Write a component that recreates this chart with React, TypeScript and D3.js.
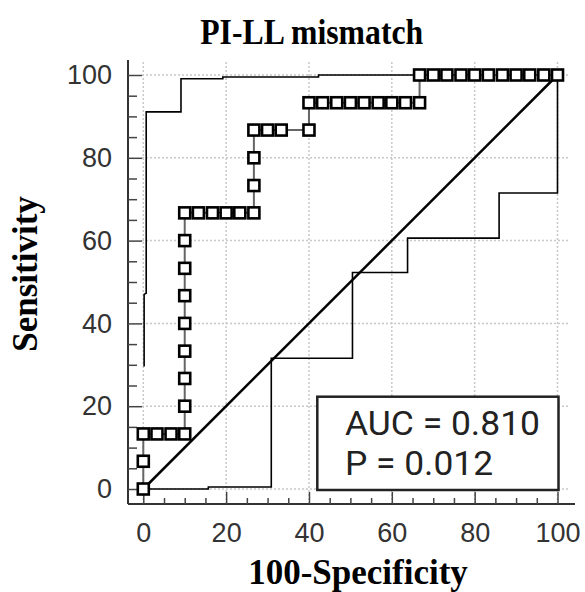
import React, { useEffect, useRef } from 'react';
import * as d3 from 'd3';

// ROC points (100-Specificity, Sensitivity)
const rocX = [0, 0, 0, 3.3, 6.7, 10, 10, 10, 10, 10, 10, 10, 10, 10, 13.3, 16.7, 20, 23.3, 26.7, 26.7, 26.7, 26.7, 30, 33.3, 40, 40, 43.3, 46.7, 50, 53.3, 56.7, 60, 63.3, 66.7, 66.7, 70, 73.3, 76.7, 80, 83.3, 86.7, 90, 93.3, 96.7, 100];
const rocY = [0, 6.7, 13.3, 13.3, 13.3, 13.3, 20, 26.7, 33.3, 40, 46.7, 53.3, 60, 66.7, 66.7, 66.7, 66.7, 66.7, 66.7, 73.3, 80, 86.7, 86.7, 86.7, 86.7, 93.3, 93.3, 93.3, 93.3, 93.3, 93.3, 93.3, 93.3, 93.3, 100, 100, 100, 100, 100, 100, 100, 100, 100, 100, 100];

// confidence bounds
const upperX = [0.2, 0.2, 0.7, 0.7, 9.1, 9.1, 19.2, 19.2, 42.3, 42.3, 100];
const upperY = [29.6, 47, 47.3, 91.1, 91.1, 99.1, 99.1, 99.5, 99.5, 100, 100];
const lowerX = [0, 15.7, 15.7, 30.9, 30.9, 50.5, 50.5, 63.8, 63.8, 85.9, 85.9, 100, 100];
const lowerY = [0, 0, 0.5, 0.5, 31.6, 31.6, 52.3, 52.3, 60.6, 60.6, 71.5, 71.5, 100];

const majorTicks = [0, 20, 40, 60, 80, 100];
const minorTicks = [5, 10, 15, 25, 30, 35, 45, 50, 55, 65, 70, 75, 85, 90, 95];

const title = 'PI-LL mismatch';
const xLabel = '100-Specificity';
const yLabel = 'Sensitivity';
const legendLines = ['AUC = 0.810', 'P = 0.012'];
const legendWidths = [195, 148];

const W = 585;
const H = 592;

const xScale = d3.scaleLinear().domain([0, 100]).range([143.3, 557.5]);
const yScale = d3.scaleLinear().domain([0, 100]).range([489, 75]);

const axisX = 128;
const axisY = 504;

export default function App() {
  const yRef = useRef<SVGGElement>(null);
  const yMinorRef = useRef<SVGGElement>(null);
  const xRef = useRef<SVGGElement>(null);
  const xMinorRef = useRef<SVGGElement>(null);

  useEffect(() => {
    const styleAxis = (g: any) => {
      g.select('.domain').remove();
      g.selectAll('line').attr('stroke', '#444').attr('stroke-width', 1.5);
      g.selectAll('text')
        .attr('fill', '#333')
        .attr('font-family', '"Liberation Sans", Arial, sans-serif')
        .attr('font-size', 27);
    };
    d3.select(yRef.current!)
      .call(d3.axisLeft(yScale).tickValues(majorTicks).tickSizeInner(-14).tickSizeOuter(0).tickPadding(16) as any)
      .call(styleAxis);
    d3.select(yMinorRef.current!)
      .call(d3.axisLeft(yScale).tickValues(minorTicks).tickSizeInner(-9).tickSizeOuter(0).tickFormat(() => '') as any)
      .call(styleAxis);
    d3.select(xRef.current!)
      .call(d3.axisBottom(xScale).tickValues(majorTicks).tickSizeInner(-12).tickSizeOuter(0).tickPadding(19) as any)
      .call(styleAxis);
    d3.select(xMinorRef.current!)
      .call(d3.axisBottom(xScale).tickValues(minorTicks).tickSizeInner(-6).tickSizeOuter(0).tickFormat(() => '') as any)
      .call(styleAxis);
  }, []);

  const line = d3.line<[number, number]>().x(d => xScale(d[0])).y(d => yScale(d[1]));
  const rocPts: [number, number][] = rocX.map((x, i) => [x, rocY[i]]);
  const upperPts: [number, number][] = upperX.map((x, i) => [x, upperY[i]]);
  const lowerPts: [number, number][] = lowerX.map((x, i) => [x, lowerY[i]]);

  const boxX0 = 317.3;
  const boxX1 = xScale(100) + 1;
  const boxY0 = 396.7;
  const boxY1 = yScale(0) + 1;

  return (
    <svg width={W} height={H} style={{ position: 'absolute', left: 0, top: 0, background: '#fff' }}>
      {/* grid */}
      <g stroke="#c8c8c8" strokeWidth={1.5} strokeDasharray="2,2">
        {majorTicks.map(t => (
          <line key={'h' + t} x1={142} x2={570} y1={yScale(t)} y2={yScale(t)} />
        ))}
        {majorTicks.map(t => (
          <line key={'v' + t} x1={xScale(t)} x2={xScale(t)} y1={62} y2={axisY - 1} />
        ))}
      </g>

      {/* axes */}
      <line x1={axisX} x2={axisX} y1={60} y2={axisY} stroke="#333" strokeWidth={2} />
      <line x1={axisX} x2={575} y1={axisY} y2={axisY} stroke="#333" strokeWidth={2} />
      <g ref={yRef} transform={`translate(${axisX},0)`} />
      <g ref={yMinorRef} transform={`translate(${axisX},0)`} />
      <g ref={xRef} transform={`translate(0,${axisY})`} />
      <g ref={xMinorRef} transform={`translate(0,${axisY})`} />

      {/* diagonal */}
      <path d={line([[0, 0], [100, 100]])!} stroke="#000" strokeWidth={2.5} fill="none" />

      {/* confidence bounds */}
      <path d={line(upperPts)!} stroke="#000" strokeWidth={1.6} fill="none" />
      <path d={line(lowerPts)!} stroke="#000" strokeWidth={1.6} fill="none" />

      {/* ROC curve */}
      <path d={line(rocPts)!} stroke="#666" strokeWidth={2} fill="none" />
      {rocPts.map((p, i) => (
        <rect
          key={i}
          x={xScale(p[0]) - 5.5}
          y={yScale(p[1]) - 5.5}
          width={11}
          height={11}
          fill="#fff"
          stroke="#000"
          strokeWidth={2.6}
        />
      ))}

      {/* legend box */}
      <rect x={boxX0} y={boxY0} width={boxX1 - boxX0} height={boxY1 - boxY0} fill="#fff" stroke="#222" strokeWidth={2.5} />
      {legendLines.map((t, i) => (
        <text
          key={t}
          x={345}
          y={435 + i * 40}
          fontFamily="Roboto, sans-serif"
          fontSize={33}
          fill="#222"
          textLength={legendWidths[i]}
          lengthAdjust="spacingAndGlyphs"
        >
          {t}
        </text>
      ))}

      {/* titles */}
      <text
        x={311.7}
        y={44}
        textAnchor="middle"
        fontFamily='"Liberation Serif", "Times New Roman", serif'
        fontWeight="bold"
        fontSize={36}
        textLength={223}
        lengthAdjust="spacingAndGlyphs"
      >
        {title}
      </text>
      <text x={358} y={584} textAnchor="middle" fontFamily='"Liberation Serif", "Times New Roman", serif' fontWeight="bold" fontSize={35}>
        {xLabel}
      </text>
      <text
        transform={`translate(37,274) rotate(-90)`}
        textAnchor="middle"
        fontFamily='"Liberation Serif", "Times New Roman", serif'
        fontWeight="bold"
        fontSize={35}
      >
        {yLabel}
      </text>
    </svg>
  );
}
